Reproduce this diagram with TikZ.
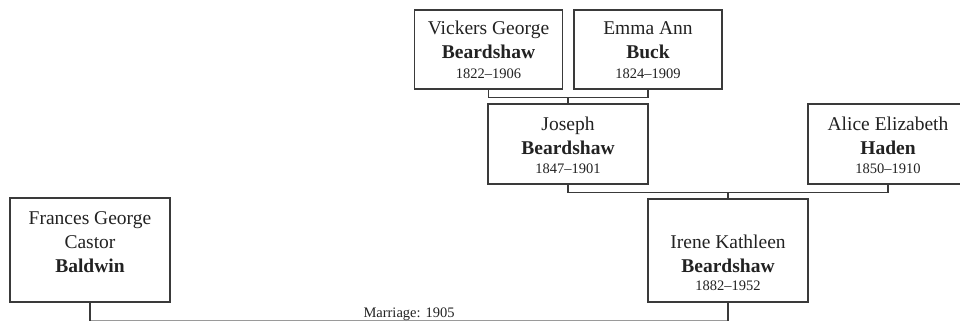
\documentclass[tikz,border=0pt]{standalone}
\usepackage{fontspec}
\setmainfont{Liberation Serif}
\usetikzlibrary{calc}
\definecolor{boxc}{HTML}{3A3A3A}
\definecolor{txtc}{HTML}{222222}
\definecolor{marc}{HTML}{9A9A9A}
\begin{document}
\begin{tikzpicture}[x=1pt,y=-1pt,
  box/.style={draw=boxc, line width=1.3pt, inner sep=0pt, fill=white},
  nm/.style={font=\fontsize{19.5}{23}\selectfont, anchor=base, inner sep=0pt, text=txtc},
  sn/.style={font=\fontsize{19.5}{23}\selectfont\bfseries, anchor=base, inner sep=0pt, text=txtc},
  yr/.style={font=\fontsize{14.5}{16}\selectfont, anchor=base, inner sep=0pt, text=txtc},
  conn/.style={draw=boxc, line width=1.2pt},
  marr/.style={draw=marc, line width=1pt},
  mlab/.style={font=\fontsize{14.5}{16}\selectfont, anchor=base, inner sep=0pt, text=txtc}]
\useasboundingbox (0,0) rectangle (960,321);
\clip (0,0) rectangle (960,321);

% boxes
\node[box, minimum width=148pt, minimum height=79pt] (vickers) at (488.5,49.5) {};
\node[box, minimum width=148pt, minimum height=79pt] (emma) at (648,49.5) {};
\node[box, minimum width=160pt, minimum height=80pt] (joseph) at (568,144) {};
\node[box, minimum width=160pt, minimum height=80pt] (alice) at (888,144) {};
\node[box, minimum width=160pt, minimum height=103pt] (irene) at (728,250.5) {};
\node[box, minimum width=160pt, minimum height=104pt] (frances) at (90,250) {};

% texts
\node[nm] (v1) at (488.5,35) {Vickers George};
\node[sn] (v2) at (488.5,59) {Beardshaw};
\node[yr] (v3) at (488.5,78) {1822–1906};
\node[nm] (e1) at (648,35) {Emma Ann};
\node[sn] (e2) at (648,59) {Buck};
\node[yr] (e3) at (648,78) {1824–1909};
\node[nm] (j1) at (568,130) {Joseph};
\node[sn] (j2) at (568,154) {Beardshaw};
\node[yr] (j3) at (568,173) {1847–1901};
\node[nm] (a1) at (888,130) {Alice Elizabeth};
\node[sn] (a2) at (888,154) {Haden};
\node[yr] (a3) at (888,173) {1850–1910};
\node[nm] (i1) at (728,248) {Irene Kathleen};
\node[sn] (i2) at (728,272) {Beardshaw};
\node[yr] (i3) at (728,290) {1882–1952};
\node[nm] (f1) at (90,224) {Frances George};
\node[nm] (f2) at (90,248) {Castor};
\node[sn] (f3) at (90,272) {Baldwin};

% connectors
\coordinate (c1) at ($(vickers.south)+(0,7.5)$);
\draw[conn] (vickers.south) -- (c1) -| (emma.south);
\draw[conn] (joseph.north) -- (joseph.north |- c1);
\coordinate (c2) at ($(joseph.south)+(0,7.5)$);
\draw[conn] (joseph.south) -- (c2) -| (alice.south);
\draw[conn] (irene.north) -- (irene.north |- c2);

% marriage
\coordinate (m1) at ($(frances.south)+(0,18)$);
\coordinate (m2) at (irene.south |- m1);
\draw[marr] (m1) -- (m2);
\draw[conn] (frances.south) -- (m1);
\draw[conn] (irene.south) -- (m2);
\node[mlab] (mlabel) at ($(m1)!0.5!(m2)+(0,-3)$) {Marriage: 1905};
\end{tikzpicture}
\end{document}
